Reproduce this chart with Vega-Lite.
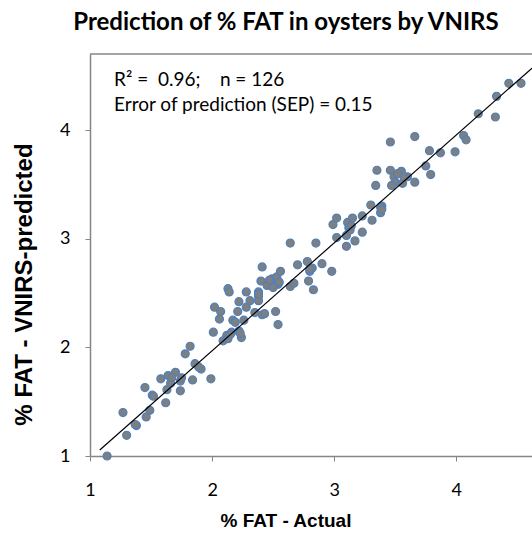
{
  "$schema": "https://vega.github.io/schema/vega-lite/v6.json",
  "width": 442,
  "height": 402,
  "autosize": {"type": "none"},
  "padding": {"left": 90, "top": 54, "right": 0, "bottom": 77},
  "background": "white",
  "config": {"view": {"stroke": null}, "font": "Lato"},
  "title": {
    "text": "Prediction of % FAT in oysters by VNIRS",
    "font": "Lato",
    "fontSize": 24,
    "fontWeight": "bold",
    "color": "black",
    "anchor": "middle",
    "frame": "group",
    "dx": -25,
    "dy": 25,
    "offset": 24,
    "baseline": "alphabetic"
  },
  "datasets": {
    "pts": [
      {"x":1.14,"y":1.00},{"x":1.30,"y":1.19},{"x":1.27,"y":1.40},{"x":1.38,"y":1.28},{"x":1.37,"y":1.29},{"x":1.46,"y":1.36},{"x":1.49,"y":1.42},{"x":1.45,"y":1.63},{"x":1.51,"y":1.56},{"x":1.62,"y":1.49},{"x":1.58,"y":1.71},{"x":1.64,"y":1.74},{"x":1.70,"y":1.77},{"x":1.63,"y":1.61},{"x":1.66,"y":1.67},{"x":1.74,"y":1.60},{"x":1.74,"y":1.69},{"x":1.84,"y":1.70},{"x":1.99,"y":1.71},{"x":1.86,"y":1.85},{"x":1.91,"y":1.80},{"x":1.78,"y":1.94},{"x":1.82,"y":2.01},
      {"x":2.01,"y":2.14},{"x":2.09,"y":2.06},{"x":2.12,"y":2.11},{"x":2.13,"y":2.08},{"x":2.16,"y":2.14},{"x":2.22,"y":2.15},{"x":2.24,"y":2.09},{"x":2.17,"y":2.25},{"x":2.19,"y":2.23},{"x":2.21,"y":2.33},{"x":2.02,"y":2.37},{"x":2.07,"y":2.33},{"x":2.06,"y":2.26},{"x":2.26,"y":2.25},{"x":2.28,"y":2.37},{"x":2.31,"y":2.43},{"x":2.22,"y":2.42},{"x":2.28,"y":2.51},{"x":2.13,"y":2.54},{"x":2.14,"y":2.51},{"x":2.38,"y":2.51},{"x":2.38,"y":2.47},{"x":2.38,"y":2.43},{"x":2.35,"y":2.32},{"x":2.41,"y":2.30},{"x":2.43,"y":2.31},{"x":2.52,"y":2.33},{"x":2.54,"y":2.21},{"x":2.40,"y":2.61},{"x":2.45,"y":2.57},{"x":2.49,"y":2.63},{"x":2.53,"y":2.65},{"x":2.54,"y":2.58},{"x":2.50,"y":2.55},{"x":2.41,"y":2.74},{"x":2.56,"y":2.70},{"x":2.64,"y":2.56},{"x":2.67,"y":2.59},{"x":2.70,"y":2.76},{"x":2.64,"y":2.96},{"x":2.78,"y":2.79},{"x":2.79,"y":2.61},{"x":2.80,"y":2.70},{"x":2.82,"y":2.73},{"x":2.83,"y":2.53},{"x":2.85,"y":2.96},{"x":2.90,"y":2.77},{"x":2.98,"y":2.70},{"x":2.99,"y":3.13},{"x":3.02,"y":3.19},{"x":3.02,"y":3.01},{"x":3.10,"y":2.93},{"x":3.10,"y":3.03},{"x":3.11,"y":3.15},{"x":3.12,"y":3.10},{"x":3.17,"y":2.98},{"x":3.15,"y":3.19},{"x":3.23,"y":3.21},{"x":3.23,"y":3.06},{"x":3.31,"y":3.17},{"x":3.30,"y":3.31},{"x":3.38,"y":3.24},{"x":3.39,"y":3.30},{"x":3.38,"y":3.29},{"x":3.34,"y":3.49},{"x":3.35,"y":3.63},{"x":3.46,"y":3.63},{"x":3.55,"y":3.62},{"x":3.60,"y":3.57},{"x":3.49,"y":3.57},{"x":3.50,"y":3.52},{"x":3.47,"y":3.49},{"x":3.56,"y":3.51},{"x":3.66,"y":3.52},{"x":3.46,"y":3.89},{"x":3.66,"y":3.94},{"x":3.78,"y":3.81},{"x":3.87,"y":3.79},{"x":3.99,"y":3.80},{"x":3.75,"y":3.67},{"x":3.79,"y":3.59},{"x":4.06,"y":3.95},{"x":4.08,"y":3.91},{"x":4.18,"y":4.15},{"x":4.32,"y":4.12},{"x":4.33,"y":4.31},{"x":4.43,"y":4.43},{"x":4.53,"y":4.43},{"x":3.39,"y":3.27},{"x":3.13,"y":3.08},{"x":1.89,"y":1.82},{"x":1.75,"y":1.72},{"x":2.15,"y":2.12},{"x":2.23,"y":2.13},{"x":2.38,"y":2.49},{"x":3.57,"y":3.57},{"x":1.67,"y":1.72},{"x":2.55,"y":2.60},{"x":2.47,"y":2.62},{"x":3.14,"y":3.12},{"x":3.52,"y":3.60},{"x":2.80,"y":2.72},{"x":1.52,"y":1.55}
    ],
    "fit": [
      {"x": 1.08, "y": 1.055},
      {"x": 4.62, "y": 4.57}
    ],
    "notes": [
      {"x": 1.197, "y": 4.46, "label": "R² =\u00a0\u00a00.96;\u00a0\u00a0\u00a0\u00a0n = 126"},
      {"x": 1.197, "y": 4.23, "label": "Error of prediction (SEP) = 0.15"}
    ]
  },
  "layer": [
    {
      "data": {"name": "pts"},
      "mark": {"type": "circle", "fill": "#7f7f7f", "stroke": "#4f81bd", "strokeWidth": 1.2, "size": 64, "opacity": 1},
      "encoding": {
        "x": {
          "field": "x", "type": "quantitative",
          "scale": {"domain": [1, 4.62], "nice": false, "zero": false},
          "axis": {
            "title": "% FAT - Actual",
            "values": [1, 2, 3, 4],
            "format": "d",
            "grid": false,
            "domainColor": "#868686",
            "domainWidth": 1.5,
            "tickColor": "#868686",
            "tickSize": 5,
            "tickWidth": 1,
            "labelFont": "Lato",
            "labelFontSize": 18,
            "labelColor": "black",
            "labelPadding": 20,
            "labelFlush": false,
            "titleFont": "Liberation Sans",
            "titleFontSize": 19,
            "titleFontWeight": "bold",
            "titleColor": "black",
            "titleX": 195.5,
            "titleY": 64,
            "titleAlign": "center",
            "titleBaseline": "middle"
          }
        },
        "y": {
          "field": "y", "type": "quantitative",
          "scale": {"domain": [1, 4.7], "nice": false, "zero": false},
          "axis": {
            "title": "% FAT - VNIRS-predicted",
            "values": [1, 2, 3, 4],
            "format": "d",
            "grid": false,
            "domainColor": "#868686",
            "domainWidth": 1.5,
            "tickColor": "#868686",
            "tickSize": 5,
            "tickWidth": 1,
            "labelFont": "Lato",
            "labelFontSize": 18,
            "labelColor": "black",
            "labelPadding": 15,
            "labelFlush": false,
            "titleFont": "Liberation Sans",
            "titleFontSize": 24,
            "titleFontWeight": "bold",
            "titleColor": "black",
            "titleAngle": -90,
            "titleX": -66,
            "titleY": 230,
            "titleAlign": "center",
            "titleBaseline": "middle"
          }
        }
      }
    },
    {
      "data": {"name": "fit"},
      "mark": {"type": "line", "color": "black", "strokeWidth": 1.2, "clip": true},
      "encoding": {
        "x": {"field": "x", "type": "quantitative"},
        "y": {"field": "y", "type": "quantitative"}
      }
    },
    {
      "data": {"name": "notes"},
      "mark": {"type": "text", "align": "left", "baseline": "middle", "font": "Lato", "fontSize": 19, "color": "black"},
      "encoding": {
        "x": {"field": "x", "type": "quantitative"},
        "y": {"field": "y", "type": "quantitative"},
        "text": {"field": "label"}
      }
    },
    {
      "data": {"values": [{}]},
      "mark": {"type": "rule", "color": "#868686", "strokeWidth": 1.5},
      "encoding": {
        "y": {"datum": 4.7}
      }
    }
  ]
}
